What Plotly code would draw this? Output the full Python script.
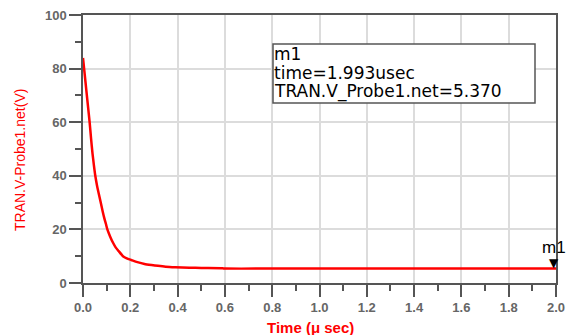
import plotly.graph_objects as go

# Data
time_us = [0.0, 0.007, 0.014, 0.021, 0.028, 0.034, 0.04, 0.046, 0.052, 0.059, 0.066,
           0.075, 0.083, 0.09, 0.097, 0.103, 0.115, 0.127, 0.138, 0.15, 0.169, 0.185,
           0.204, 0.23, 0.26, 0.29, 0.317, 0.35, 0.39, 0.45, 0.5, 0.59, 0.6, 0.8,
           1.0, 1.2, 1.4, 1.6, 1.8, 2.0]
v_probe = [84, 78, 72, 66, 60, 54, 48.5, 44, 40, 36.5, 33.6,
           30, 26.8, 24.2, 22, 20, 17.3, 15, 13.3, 12, 10, 9.2,
           8.6, 7.8, 7.1, 6.7, 6.4, 6.1, 5.9, 5.7, 5.6, 5.5, 5.4, 5.38,
           5.37, 5.37, 5.37, 5.37, 5.37, 5.37]
x_ticks = [0.0, 0.2, 0.4, 0.6, 0.8, 1.0, 1.2, 1.4, 1.6, 1.8, 2.0]
y_ticks = [0, 20, 40, 60, 80, 100]
marker_name = "m1"
marker_time = 1.993
marker_value = 5.370

RED = "#ff0000"
TICKFONT = dict(family="Liberation Sans", size=13, color="#666666")

fig = go.Figure()
fig.add_trace(go.Scatter(x=time_us, y=v_probe, mode="lines",
                         line=dict(color=RED, width=2.5, shape="spline", smoothing=0.6),
                         showlegend=False, hoverinfo="skip"))

axis_common = dict(showline=True, linecolor="#555555", linewidth=1.5, mirror=True,
                   showgrid=True, gridcolor="#dcdcdc", gridwidth=1.5,
                   ticks="outside", ticklen=12, tickwidth=1.5, tickcolor="#555555",
                   tickfont=TICKFONT, zeroline=False, automargin=False)

fig.update_xaxes(range=[0, 2], tickvals=x_ticks,
                 ticktext=[f"<b>{v:.1f}</b>" for v in x_ticks],
                 minor=dict(dtick=0.1, ticklen=6, tickwidth=1.5, tickcolor="#555555",
                            showgrid=False, ticks="outside"),
                 **axis_common)
fig.update_yaxes(range=[0, 100], tickvals=y_ticks,
                 ticktext=[f"<b>{v}</b>" for v in y_ticks],
                 minor=dict(dtick=10, ticklen=6, tickwidth=1.5, tickcolor="#555555",
                            showgrid=False, ticks="outside"),
                 **axis_common)

# marker m1
fig.add_annotation(x=marker_time, y=marker_value, text="▼", showarrow=False,
                   yanchor="bottom", yshift=-3, font=dict(size=12, color="black",
                                                         family="DejaVu Sans"))
fig.add_annotation(x=marker_time, y=marker_value, text=marker_name, showarrow=False,
                   yanchor="bottom", yshift=10, xanchor="center",
                   font=dict(size=17, color="black", family="Liberation Sans"))

# readout box
lines = [marker_name, f"time={marker_time:.3f}usec",
         f"TRAN.V_Probe1.net={marker_value:.3f}"]
fig.add_shape(type="rect", xref="paper", yref="paper",
              x0=(273 - 83) / 473, x1=(535 - 83) / 473,
              y0=(283 - 103) / 268, y1=(283 - 44) / 268,
              line=dict(color="#555555", width=1.5), fillcolor="white", layer="above")
for i, txt in enumerate(lines):
    fig.add_annotation(xref="paper", yref="paper", x=(272 - 83) / 473,
                       y=(283 - (53.5 + 19 * i)) / 268, text=txt, showarrow=False,
                       xanchor="left", yanchor="middle",
                       font=dict(size=17, color="black", family="DejaVu Sans"))

# axis titles
fig.add_annotation(xref="paper", yref="paper", x=(20 - 83) / 473, y=(283 - 160) / 268,
                   text="TRAN.V-Probe1.net(V)", textangle=-90, showarrow=False,
                   xanchor="center", yanchor="middle",
                   font=dict(size=14, color=RED, family="Liberation Sans"))
fig.add_annotation(xref="paper", yref="paper", x=(310 - 83) / 473, y=(283 - 327) / 268,
                   text="<b>Time (μ sec)</b>", showarrow=False,
                   xanchor="center", yanchor="middle",
                   font=dict(size=15, color=RED, family="Liberation Sans"))

fig.update_layout(width=571, height=335,
                  margin=dict(l=83, r=15, t=15, b=52),
                  paper_bgcolor="white", plot_bgcolor="white")

fig.write_html("out.html", config={"displayModeBar": False},
               post_script="document.body.style.margin='0';document.body.style.overflow='hidden';")
